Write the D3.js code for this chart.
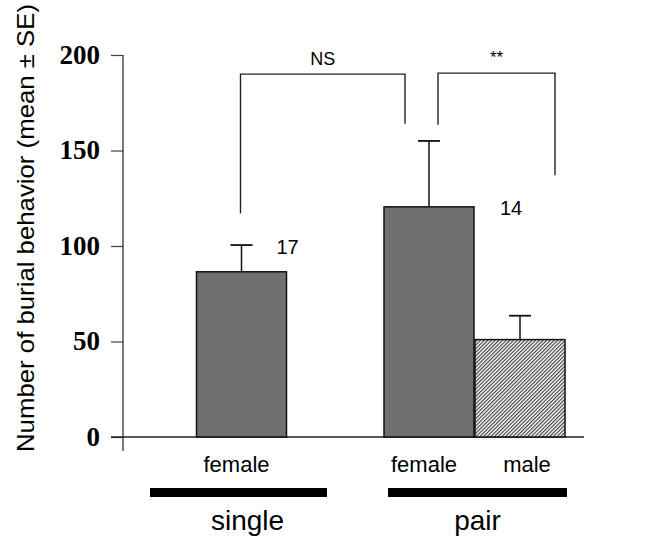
<!DOCTYPE html>
<html><head><meta charset="utf-8">
<script src="https://cdn.jsdelivr.net/npm/d3@7"></script>
<style>body{margin:0;background:#fff}svg{display:block}</style>
</head><body>
<script>
// ---- data ----
const groups = ["single", "pair"];
const barGroup = ["single", "pair", "pair"];
const barSex = ["female", "female", "male"];
const means = [86.5, 120.5, 51];
const ses = [14, 34.5, 12.5];
const sampleNs = ["17", "14"];
const yTicks = [0, 50, 100, 150, 200];

const W = 649, H = 538;
const svg = d3.select("body").append("svg").attr("width", W).attr("height", H);

const y = d3.scaleLinear().domain([0, 200]).range([437, 55]);
const xg = d3.scaleBand().domain(groups).range([125, 591]);
const barW = 90, barStep = 91;
const sans = "Liberation Sans, Arial, sans-serif";

// hatch pattern
const defs = svg.append("defs");
const pat = defs.append("pattern").attr("id", "hatch").attr("patternUnits", "userSpaceOnUse")
  .attr("width", 2.6).attr("height", 2.6).attr("patternTransform", "rotate(45)");
pat.append("rect").attr("width", 2.6).attr("height", 2.6).attr("fill", "#fff");
pat.append("line").attr("x1", 0.6).attr("y1", 0).attr("x2", 0.6).attr("y2", 2.6)
  .attr("stroke", "#333").attr("stroke-width", 1.1);

// bar positions
const bars = means.map((m, i) => {
  const g = barGroup[i];
  const members = barGroup.map((d, j) => d === g ? j : -1).filter(j => j >= 0);
  const k = members.indexOf(i), n = members.length;
  const cx = xg(g) + xg.bandwidth() / 2 + (k - (n - 1) / 2) * barStep;
  return {i, m, se: ses[i], sex: barSex[i], cx};
});

// y axis
const yAxis = d3.axisLeft(y).tickValues(yTicks).tickSize(12).tickPadding(11).tickFormat(d3.format("d"));
const ax = svg.append("g").attr("transform", "translate(123,0)").call(yAxis);
ax.select(".domain").remove();
ax.selectAll(".tick line").attr("stroke", "#444").attr("stroke-width", 1.2);
ax.selectAll(".tick text").attr("font-family", "Liberation Serif, Times New Roman, serif")
  .attr("font-weight", "bold").attr("font-size", 27).attr("fill", "#000").attr("dy", "0.3em");
svg.append("line").attr("x1", 123).attr("x2", 123).attr("y1", y(200)).attr("y2", 451)
  .attr("stroke", "#222").attr("stroke-width", 1.2);
svg.append("line").attr("x1", 111).attr("x2", 584).attr("y1", y(0)).attr("y2", y(0))
  .attr("stroke", "#222").attr("stroke-width", 1.5);

// y title
svg.append("text").attr("transform", `translate(34,228) rotate(-90)`)
  .attr("text-anchor", "middle").attr("font-family", sans)
  .attr("font-size", 24).attr("textLength", 448).attr("lengthAdjust", "spacingAndGlyphs")
  .text("Number of burial behavior (mean ± SE)");

// error bars
bars.forEach(b => {
  svg.append("line").attr("x1", b.cx).attr("x2", b.cx).attr("y1", y(b.m)).attr("y2", y(b.m + b.se))
    .attr("stroke", "#111").attr("stroke-width", 1.5);
  svg.append("line").attr("x1", b.cx - 11).attr("x2", b.cx + 11).attr("y1", y(b.m + b.se)).attr("y2", y(b.m + b.se))
    .attr("stroke", "#111").attr("stroke-width", 1.8);
});

// bars
svg.selectAll("rect.bar").data(bars).enter().append("rect").attr("class", "bar")
  .attr("x", d => d.cx - barW / 2).attr("width", barW)
  .attr("y", d => y(d.m)).attr("height", d => y(0) - y(d.m))
  .attr("fill", d => d.sex === "male" ? "url(#hatch)" : "#6f6f6f")
  .attr("stroke", "#111").attr("stroke-width", 1.5);

// sample sizes
svg.append("text").attr("x", bars[0].cx + 35).attr("y", y(bars[0].m + bars[0].se) + 9)
  .attr("font-family", sans).attr("font-size", 20).text(sampleNs[0]);
svg.append("text").attr("x", bars[1].cx + 71).attr("y", y(bars[1].m) + 8)
  .attr("font-family", sans).attr("font-size", 20).text(sampleNs[1]);

// significance brackets
const bracket = (x1, y1, x2, y2, top, label, ly, fs) => {
  svg.append("path").attr("d", `M${x1},${y1}V${top}H${x2}V${y2}`)
    .attr("fill", "none").attr("stroke", "#222").attr("stroke-width", 1.4);
  svg.append("text").attr("x", (x1 + x2) / 2).attr("y", ly).attr("text-anchor", "middle")
    .attr("font-family", sans).attr("font-size", fs).text(label);
};
bracket(bars[0].cx - 1, y(117), bars[1].cx - 24, y(164), y(190), "NS", 65, 18);
bracket(bars[1].cx + 9, y(163.5), bars[2].cx + 35, y(137), y(190.5), "**", 63, 17);

// category labels
bars.forEach(b => {
  svg.append("text").attr("x", b.cx + (b.i === 0 ? -5 : b.i === 1 ? -5 : 7)).attr("y", 472)
    .attr("text-anchor", "middle").attr("font-family", sans).attr("font-size", 22).text(b.sex);
});
// group bars and labels
groups.forEach(g => {
  const x1 = g === "single" ? 150 : 388, x2 = g === "single" ? 327 : 567;
  svg.append("rect").attr("x", x1).attr("y", 488).attr("width", x2 - x1).attr("height", 9).attr("fill", "#000");
  svg.append("text").attr("x", (x1 + x2) / 2 + (g === "single" ? 9 : 0)).attr("y", 530).attr("text-anchor", "middle")
    .attr("font-family", sans).attr("font-size", 28).text(g);
});
</script>
</body></html>
